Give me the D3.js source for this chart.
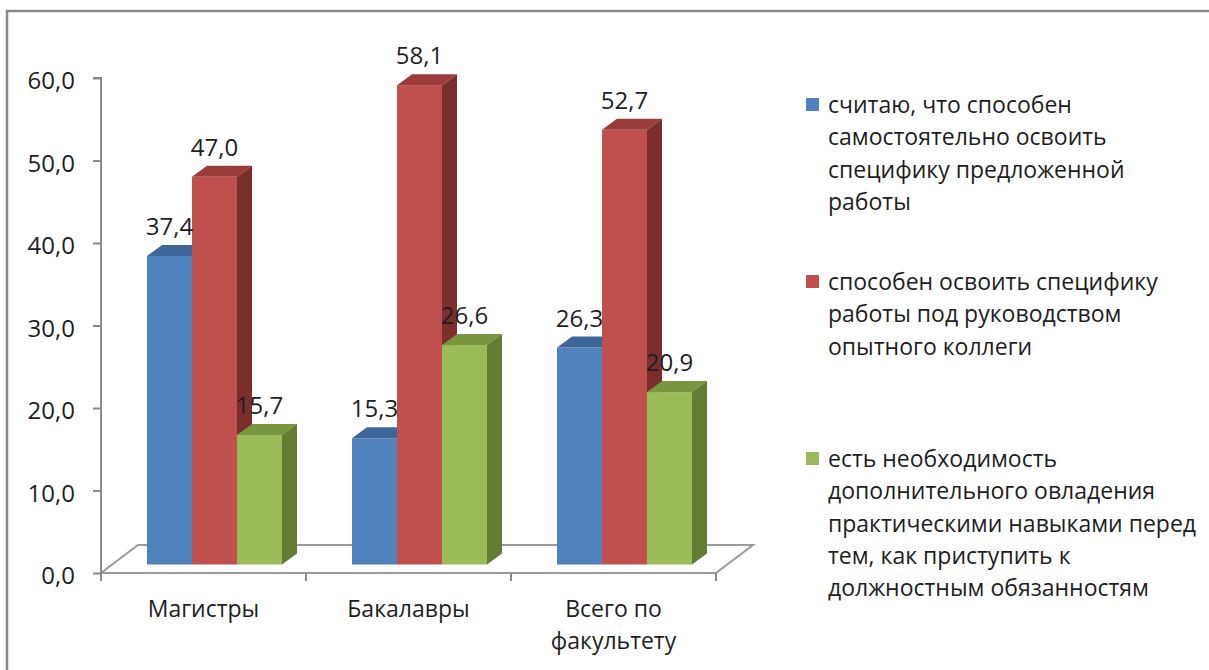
<!DOCTYPE html>
<html>
<head>
<meta charset="utf-8">
<script src="https://cdn.jsdelivr.net/npm/d3@7"></script>
<style>
  body { margin: 0; background: #fff; }
  svg { display: block; }
  text { font-family: "Open Sans", sans-serif; fill: #1e1e1e; }
</style>
</head>
<body>
<svg width="1209" height="670"></svg>
<script>
// Data
var categories = ["Магистры", "Бакалавры", "Всего по факультету"];
var seriesNames = [
  "считаю, что способен самостоятельно освоить специфику предложенной работы",
  "способен освоить специфику работы под руководством опытного коллеги",
  "есть необходимость дополнительного овладения практическими навыками перед тем, как приступить к должностным обязанностям"
];
var selfValues   = [37.4, 15.3, 26.3];
var mentorValues = [47.0, 58.1, 52.7];
var trainValues  = [15.7, 26.6, 20.9];
var yTicks = [0, 10, 20, 30, 40, 50, 60];

var seriesValues = [selfValues, mentorValues, trainValues];

// colours: front, top, side
var front = ["#4f81bd", "#c0504d", "#9bbb59"];
var top_  = ["#3e6699", "#9a3c3a", "#7a953f"];
var side  = ["#385d8a", "#7b2e2c", "#637b33"];

var svg = d3.select("svg");
var fontSize = 23;

// frame
svg.append("rect")
  .attr("x", 7).attr("y", 11)
  .attr("width", 1230).attr("height", 700)
  .attr("fill", "none")
  .attr("stroke", "#8a8a8a")
  .attr("stroke-width", 2.5);

// geometry of the 3D plot
var axisX = 101, plotRight = 716, floorY = 573, topY = 78;
var floorDx = 37, floorDy = -28;   // depth of the floor
var barDx = 15, barDy = -11;       // depth of a bar
var offDx = (floorDx - barDx) / 2, offDy = (floorDy - barDy) / 2;

var y = d3.scaleLinear().domain([0, 60]).range([floorY, topY]);
var x = d3.scaleBand().domain(categories).range([axisX, plotRight]);
var groupW = 135;
var xs = d3.scaleBand().domain(d3.range(seriesNames.length)).range([0, groupW]);

var loc = d3.formatLocale({decimal: ",", thousands: " ", grouping: [3], currency: ["", ""]});
var fmt = loc.format(".1f");

// floor
svg.append("path")
  .attr("d", "M" + axisX + "," + floorY +
             "L" + plotRight + "," + floorY +
             "L" + (plotRight + floorDx) + "," + (floorY + floorDy) +
             "L" + (axisX + floorDx) + "," + (floorY + floorDy) + "Z")
  .attr("fill", "#fff")
  .attr("stroke", "#9a9a9a")
  .attr("stroke-width", 2);

// value axis
var yAxis = svg.append("g")
  .attr("transform", "translate(" + axisX + ",0)")
  .call(d3.axisLeft(y).tickValues(yTicks).tickFormat(fmt).tickSize(8).tickPadding(18));
yAxis.select(".domain").attr("stroke", "#8a8a8a").attr("stroke-width", 2)
  .attr("d", "M-8," + topY + "H0V" + floorY);
yAxis.selectAll(".tick line").attr("stroke", "#8a8a8a").attr("stroke-width", 2);
yAxis.selectAll(".tick text")
  .attr("font-size", 24)
  .attr("font-family", "Open Sans")
  .attr("fill", "#1e1e1e")
  .attr("dy", "0.45em");

// category ticks at band edges
var edges = categories.map(function(c){ return x(c); }).concat([plotRight]);
svg.append("g").selectAll("line")
  .data(edges)
  .enter()
  .append("line")
    .attr("x1", function(d){ return d; })
    .attr("x2", function(d){ return d; })
    .attr("y1", floorY)
    .attr("y2", floorY + 8)
    .attr("stroke", "#8a8a8a")
    .attr("stroke-width", 2);

// wrap helper
function wrap(textSel, maxW, lineH) {
  textSel.each(function() {
    var t = d3.select(this);
    var words = t.text().split(/\s+/);
    var xPos = t.attr("x");
    t.text(null);
    var line = [];
    var ts = t.append("tspan").attr("x", xPos).attr("dy", 0);
    words.forEach(function(w) {
      line.push(w);
      ts.text(line.join(" "));
      if (ts.node().getComputedTextLength() > maxW && line.length > 1) {
        line.pop();
        ts.text(line.join(" "));
        line = [w];
        ts = t.append("tspan").attr("x", xPos).attr("dy", lineH).text(w);
      }
    });
  });
}

// category labels
svg.append("g").selectAll("text")
  .data(categories)
  .enter()
  .append("text")
    .attr("x", function(d){ return x(d) + x.bandwidth() / 2; })
    .attr("y", 617)
    .attr("text-anchor", "middle")
    .attr("font-size", fontSize)
    .text(function(d){ return d; })
    .call(wrap, 180, 32);

// bars
var bars = [];
categories.forEach(function(c, ci) {
  seriesValues.forEach(function(vals, si) {
    bars.push({cat: c, s: si, v: vals[ci]});
  });
});

function x0(d) { return x(d.cat) + (x.bandwidth() - groupW) / 2 + xs(d.s) + offDx; }
function yt(d) { return y(d.v) + offDy; }
var yb = y(0) + offDy;
var w = xs.bandwidth();

var g = svg.selectAll(".bar")
  .data(bars)
  .enter()
  .append("g")
    .attr("class", "bar");

g.append("rect")
  .attr("x", x0)
  .attr("y", yt)
  .attr("width", w)
  .attr("height", function(d){ return yb - yt(d); })
  .attr("fill", function(d){ return front[d.s]; });

g.append("path")
  .attr("d", function(d) {
    var a = x0(d), t = yt(d);
    return "M" + a + "," + t + "L" + (a + barDx) + "," + (t + barDy) +
           "L" + (a + w + barDx) + "," + (t + barDy) + "L" + (a + w) + "," + t + "Z";
  })
  .attr("fill", function(d){ return top_[d.s]; });

g.append("path")
  .attr("d", function(d) {
    var a = x0(d) + w, t = yt(d);
    return "M" + a + "," + t + "L" + (a + barDx) + "," + (t + barDy) +
           "L" + (a + barDx) + "," + (yb + barDy) + "L" + a + "," + yb + "Z";
  })
  .attr("fill", function(d){ return side[d.s]; });

// value labels
svg.append("g").selectAll("text")
  .data(bars)
  .enter()
  .append("text")
    .attr("x", function(d){ return x0(d) + w / 2; })
    .attr("y", function(d){ return yt(d) + barDy - 10; })
    .attr("text-anchor", "middle")
    .attr("font-size", 24)
    .text(function(d){ return fmt(d.v); });

// legend
var legendX = 806, legendY0 = 113, legendStep = 177;
var lg = svg.append("g").selectAll("g")
  .data(seriesNames)
  .enter()
  .append("g");

lg.append("rect")
  .attr("x", legendX)
  .attr("y", function(d, i){ return legendY0 + i * legendStep - 15; })
  .attr("width", 13)
  .attr("height", 13)
  .attr("fill", function(d, i){ return front[i]; });

lg.append("text")
  .attr("x", legendX + 22)
  .attr("y", function(d, i){ return legendY0 + i * legendStep; })
  .attr("font-size", fontSize)
  .text(function(d){ return d; })
  .call(wrap, 375, 32.3);
</script>
</body>
</html>
